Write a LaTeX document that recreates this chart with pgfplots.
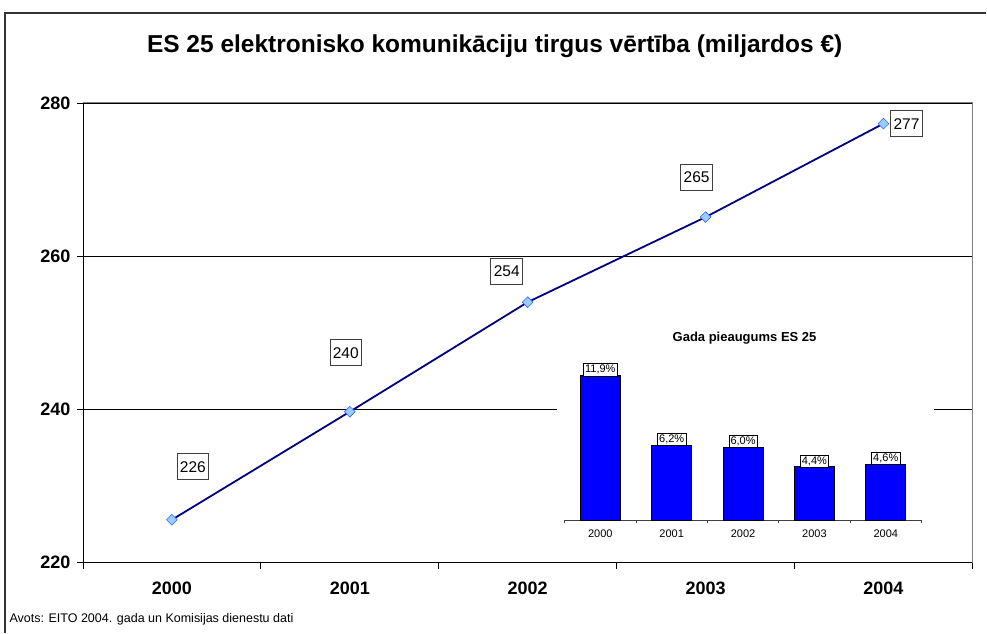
\documentclass[border=0pt]{standalone}
\usepackage{fontspec}
\setmainfont{Liberation Sans}
\usepackage{pgfplots}
\pgfplotsset{compat=1.18}
\definecolor{navyline}{RGB}{0,0,128}
\definecolor{markfill}{RGB}{153,204,255}
\definecolor{markedge}{RGB}{51,102,255}
\definecolor{barblue}{RGB}{0,0,255}
\begin{document}
\begin{tikzpicture}
\path (0pt,0pt) rectangle (987pt,-633pt);
\draw[line width=1.2pt, black!80] (5pt,-633pt) -- (5pt,-13pt) -- (987pt,-13pt);
\node[font=\bfseries\fontsize{24.5}{28}\selectfont] at (495pt,-46pt)
  {ES 25 elektronisko komunikāciju tirgus vērtība (miljardos €)};

% main chart
\begin{axis}[
  at={(83pt,-563pt)}, anchor=south west, scale only axis,
  width=890pt, height=460pt,
  xmin=-0.5, xmax=4.5, ymin=220, ymax=280,
  axis lines=left, axis line style={-, black, line width=0.8pt},
  tick align=outside, major tick length=6pt,
  tick style={black, line width=0.8pt},
  xtick={-0.5,0.5,...,4.5},
  xticklabels={2000,2001,2002,2003,2004},
  x tick label as interval,
  ytick={220,240,260,280},
  ymajorgrids, grid style={black, line width=0.7pt},
  /pgf/number format/assume math mode=true,
  /pgf/number format/set thousands separator={},
  ticklabel style={font=\bfseries\fontsize{18}{18}\selectfont},
  xticklabel style={yshift=-10pt},
  yticklabel style={xshift=-3pt},
  clip=false,
]
\addplot[navyline, line width=1.8pt, mark=square*,
  mark options={rotate=45, fill=markfill, draw=markedge, line width=0.6pt}, mark size=3.8pt]
  coordinates {(0,225.6) (1,239.7) (2,254.0) (3,265.1) (4,277.3)};
\draw[gray, line width=1pt] (rel axis cs:0,1) -- (rel axis cs:1,1) -- (rel axis cs:1,0);
\tikzset{lbl/.style={draw=black!75, fill=white, line width=0.7pt,
  font=\fontsize{15.5}{15.5}\selectfont, inner xsep=3pt, minimum height=26pt}}
\node[lbl] at (axis cs:0,225.6) [xshift=21pt, yshift=53pt] {226};
\node[lbl] at (axis cs:1,239.7) [xshift=-4pt, yshift=59pt] {240};
\node[lbl] at (axis cs:2,254.0) [xshift=-21pt, yshift=31pt] {254};
\node[lbl] at (axis cs:3,265.1) [xshift=-9pt, yshift=40pt] {265};
\node[lbl] at (axis cs:4,277.3) [xshift=23pt] {277};
\end{axis}

% inset
\fill[white] (557pt,-318pt) rectangle (935pt,-556pt);
\node[font=\bfseries\fontsize{13}{14}\selectfont] at (745pt,-338pt) {Gada pieaugums ES 25};
\begin{axis}[
  at={(565pt,-520.7pt)}, anchor=south west, scale only axis,
  width=357pt, height=146pt,
  xmin=-0.5, xmax=4.5, ymin=0, ymax=12,
  axis x line*=bottom, axis y line=none,
  axis line style={-, black!75, line width=0.8pt},
  tick align=outside, major tick length=3pt,
  tick style={black!75, line width=0.8pt},
  xtick={-0.5,0.5,...,4.5},
  xticklabels={2000,2001,2002,2003,2004},
  x tick label as interval,
  xticklabel style={font=\fontsize{11}{11}\selectfont, yshift=-3pt},
  ybar, bar width=40pt,
  nodes near coords, point meta=explicit symbolic,
  every node near coord/.append style={draw=black, fill=white, line width=0.6pt,
    font=\fontsize{11}{11}\selectfont, inner sep=1.6pt, yshift=-0.5pt},
  clip=false,
]
\addplot[fill=barblue, draw=black, line width=0.8pt]
  coordinates {(0,11.9) [{11,9\%}] (1,6.2) [{6,2\%}] (2,6.0) [{6,0\%}] (3,4.4) [{4,4\%}] (4,4.6) [{4,6\%}]};
\end{axis}

\node[anchor=base west, font=\fontsize{12.5}{13}\selectfont] at (6pt,-623pt)
  {Avots: EITO 2004. gada un Komisijas dienestu dati};
\end{tikzpicture}
\end{document}
